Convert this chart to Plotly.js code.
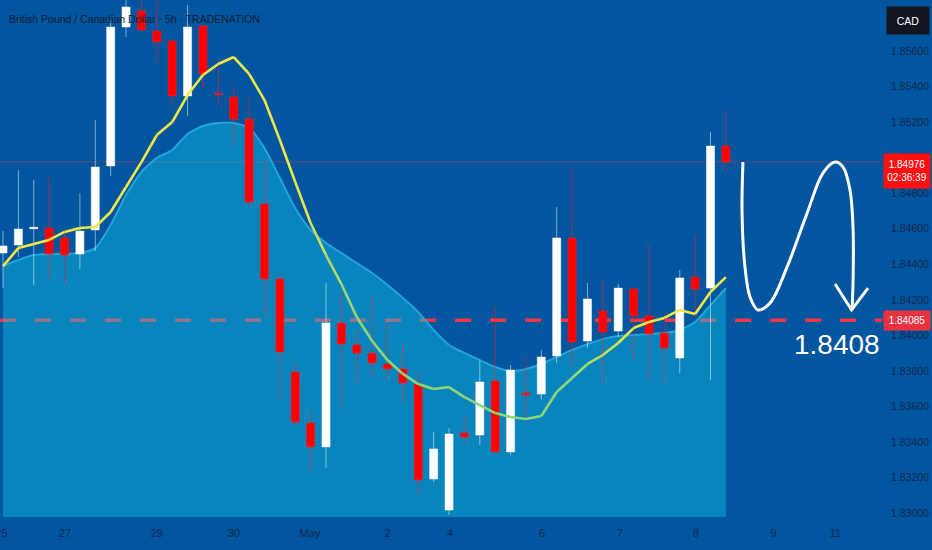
<!DOCTYPE html>
<html>
<head>
<meta charset="utf-8">
<script src="https://cdn.plot.ly/plotly-3.0.1.min.js"></script>
<style>
  html, body { margin: 0; padding: 0; background: #02559f; }
  #chart { width: 932px; height: 550px; }
</style>
</head>
<body>
<div id="chart"></div>
<script>
// ---- data (GBP/CAD, 5h candles) ----
const opens  = [1.84463,1.84508,1.84600,1.84604,1.84548,1.84458,1.84593,1.84953,1.85735,1.85825,1.85713,1.85656,1.85347,1.85741,1.85362,1.85341,1.85217,1.84739,1.84317,1.83794,1.83507,1.83372,1.84070,1.83946,1.83900,1.83839,1.83811,1.83726,1.83192,1.83017,1.83451,1.83439,1.83743,1.83344,1.83675,1.83670,1.83884,1.84548,1.83968,1.84137,1.84024,1.84261,1.84109,1.84013,1.83873,1.84328,1.84266,1.85065];
const highs  = [1.84587,1.84930,1.84874,1.84891,1.84576,1.84801,1.85212,1.85775,1.85890,1.85900,1.85890,1.85660,1.85859,1.85750,1.85549,1.85403,1.85341,1.84981,1.84340,1.83844,1.83569,1.84295,1.84238,1.84030,1.84216,1.84075,1.83946,1.83794,1.83456,1.83479,1.83541,1.83856,1.84160,1.83833,1.83878,1.83917,1.84722,1.84942,1.84295,1.84311,1.84289,1.84261,1.84508,1.84126,1.84368,1.84565,1.85144,1.85268];
const lows   = [1.84266,1.84441,1.84283,1.84317,1.84283,1.84373,1.84475,1.84897,1.85679,1.85700,1.85532,1.85285,1.85234,1.85381,1.85290,1.85060,1.84722,1.84103,1.83636,1.83496,1.83231,1.83254,1.83597,1.83732,1.83766,1.83749,1.83625,1.83102,1.83175,1.82989,1.83394,1.83383,1.83338,1.83327,1.83541,1.83640,1.83844,1.83822,1.83929,1.83732,1.83991,1.83861,1.83749,1.83732,1.83788,1.84103,1.83749,1.84919];
const closes = [1.84503,1.84598,1.84608,1.84458,1.84452,1.84587,1.84947,1.85735,1.85848,1.85718,1.85651,1.85347,1.85735,1.85471,1.85355,1.85217,1.84750,1.84317,1.83906,1.83512,1.83372,1.84070,1.83951,1.83900,1.83844,1.83811,1.83732,1.83186,1.83361,1.83445,1.83428,1.83738,1.83344,1.83805,1.83664,1.83878,1.84548,1.83963,1.84205,1.84019,1.84266,1.84109,1.84008,1.83929,1.84323,1.84261,1.85065,1.84976];
// fast moving average (yellow/green line)
const fastMA = [1.84390,1.84491,1.84514,1.84537,1.84582,1.84604,1.84610,1.84694,1.84835,1.84975,1.85127,1.85200,1.85352,1.85465,1.85527,1.85566,1.85471,1.85324,1.85099,1.84863,1.84632,1.84452,1.84289,1.84103,1.83968,1.83861,1.83783,1.83726,1.83698,1.83709,1.83653,1.83608,1.83563,1.83541,1.83529,1.83546,1.83681,1.83760,1.83839,1.83889,1.83957,1.84041,1.84075,1.84098,1.84143,1.84120,1.84244,1.84328];
// slow moving average (cyan area)
const slowMA = [1.84390,1.84424,1.84452,1.84458,1.84458,1.84463,1.84491,1.84621,1.84790,1.84919,1.84998,1.85043,1.85133,1.85178,1.85195,1.85195,1.85167,1.85054,1.84885,1.84717,1.84593,1.84520,1.84463,1.84407,1.84351,1.84283,1.84210,1.84131,1.84030,1.83946,1.83901,1.83861,1.83822,1.83799,1.83811,1.83839,1.83878,1.83918,1.83951,1.83979,1.83996,1.84002,1.84008,1.84013,1.84030,1.84075,1.84171,1.84266];
// date tick labels (position in candle index units)
const dateTickPos  = [-0.1, 4.03, 10.0, 15.02, 19.96, 25.0, 29.06, 35.04, 40.1, 45.06, 50.1, 54.1];
const dateTickText = ['25','27','29','30','May','2','4','6','7','8','9','11'];
const priceTicks = [1.830,1.832,1.834,1.836,1.838,1.840,1.842,1.844,1.846,1.848,1.850,1.852,1.854,1.856];
const lastPrice = 1.84976;
const countdown = '02:36:39';
const targetLevel = 1.84085;
const targetText = '1.8408';
// hand-drawn projection sketch (candle index, price)
const sketchX = [48.11,48.05,48.24,48.57,49.09,49.87,50.98,52.28,53.32,54.10,54.62,55.07,55.27,55.27,55.20];
const sketchY = [1.84975,1.84688,1.84385,1.84216,1.84143,1.84182,1.84385,1.84688,1.84914,1.84975,1.84947,1.84818,1.84593,1.84311,1.84143];
const headX = [54.10,55.17,56.24];
const headY = [1.84289,1.84143,1.84266];

// ---- build ----
const idx = opens.map((_, i) => i);
const xRange = [-0.195, 57.15];
const yRange = [1.82978, 1.85887];
const traces = [];

// area on the base subplot (drawn first, below candles)
traces.push({
  type: 'scatter', mode: 'lines', x: idx, y: slowMA, xaxis: 'x', yaxis: 'y',
  line: { color: '#22a6d8', width: 2, shape: 'spline', smoothing: 0.6 },
  fill: 'tozeroy', fillcolor: 'rgba(20,200,232,0.42)', hoverinfo: 'skip'
});

// candles on the overlay subplot (drawn above the area)
traces.push({
  type: 'candlestick', x: idx, open: opens, high: highs, low: lows, close: closes,
  xaxis: 'x2', yaxis: 'y2',
  increasing: { line: { color: 'rgba(255,255,255,0.5)', width: 1 }, fillcolor: '#ffffff' },
  decreasing: { line: { color: 'rgba(255,30,30,0.55)', width: 1 }, fillcolor: '#ff0000' },
  whiskerwidth: 0, hoverinfo: 'skip'
});

// fast MA coloured segment by segment (yellow -> green -> yellow)
function greenWeight(i) {
  if (i < 19) return 0;
  if (i < 23) return (i - 19) / 4;
  if (i < 37) return 1;
  if (i < 41) return 1 - (i - 37) / 4;
  return 0;
}
const yellow = [240, 232, 70], green = [140, 214, 120];
for (let i = 0; i < fastMA.length - 1; i++) {
  const w = greenWeight(i + 0.5);
  const c = yellow.map((v, k) => Math.round(v + (green[k] - v) * w));
  traces.push({
    type: 'scatter', mode: 'lines', x: [idx[i], idx[i + 1]], y: [fastMA[i], fastMA[i + 1]],
    xaxis: 'x2', yaxis: 'y2',
    line: { color: `rgb(${c[0]},${c[1]},${c[2]})`, width: 2.6 }, hoverinfo: 'skip'
  });
}

traces.push({
  type: 'scatter', mode: 'lines', x: sketchX, y: sketchY, xaxis: 'x2', yaxis: 'y2',
  line: { color: '#ffffff', width: 3, shape: 'spline', smoothing: 1 }, hoverinfo: 'skip'
});
traces.push({
  type: 'scatter', mode: 'lines', x: headX, y: headY, xaxis: 'x2', yaxis: 'y2',
  line: { color: '#ffffff', width: 3 }, hoverinfo: 'skip'
});

const font = '"Liberation Sans", Arial, sans-serif';
const tickColor = '#13294b';

const layout = {
  width: 932, height: 550,
  margin: { l: 0, r: 50, t: 0, b: 33, pad: 0 },
  paper_bgcolor: '#02559f', plot_bgcolor: '#02559f',
  showlegend: false,
  boxgap: 0.25,
  xaxis: {
    range: xRange, showgrid: false, zeroline: false, rangeslider: { visible: false },
    tickmode: 'array', tickvals: dateTickPos, ticktext: dateTickText, ticklabeloverflow: 'allow',
    ticks: 'outside', ticklen: 6, tickcolor: 'rgba(0,0,0,0)',
    tickfont: { family: font, size: 11, color: tickColor }, showline: false, fixedrange: true
  },
  yaxis: {
    side: 'right', range: yRange, showgrid: false, zeroline: false,
    tickmode: 'array', tickvals: priceTicks, tickformat: '.5f', ticklabeloverflow: 'allow',
    ticks: 'outside', ticklen: 6, tickcolor: 'rgba(0,0,0,0)',
    tickfont: { family: font, size: 10.5, color: tickColor }, showline: false, fixedrange: true
  },
  xaxis2: { overlaying: 'x', anchor: 'y2', range: xRange, visible: false, showgrid: false,
            zeroline: false, rangeslider: { visible: false }, fixedrange: true },
  yaxis2: { overlaying: 'y', anchor: 'x2', side: 'right', range: yRange, visible: false,
            showgrid: false, zeroline: false, fixedrange: true },
  shapes: [
    { type: 'line', xref: 'paper', x0: 0, x1: 1, yref: 'y', y0: lastPrice, y1: lastPrice,
      line: { color: 'rgba(230,60,80,0.45)', width: 1 }, layer: 'below' },
    { type: 'line', xref: 'paper', x0: 0, x1: 1, yref: 'y', y0: targetLevel, y1: targetLevel,
      line: { color: '#f23645', width: 3.5, dash: '16px,19px' }, layer: 'below' }
  ],
  annotations: [
    { xref: 'paper', yref: 'paper', x: 7 / 882, y: 1 - 19 / 517, xanchor: 'left', yanchor: 'middle',
      text: 'British Pound / Canadian Dollar · 5h · TRADENATION', showarrow: false,
      font: { family: font, size: 10.5, color: '#0f1d33' } },
    { xref: 'paper', yref: 'paper', x: 1, y: 1 - 6 / 517, xanchor: 'left', yanchor: 'top', xshift: 4,
      text: 'CAD', showarrow: false, bgcolor: '#121620', width: 40, height: 25,
      font: { family: font, size: 10.5, color: '#ffffff' } },
    { xref: 'paper', yref: 'y', x: 1, y: lastPrice, xanchor: 'left', yanchor: 'top', xshift: 1, yshift: 9,
      text: lastPrice.toFixed(5) + '<br>' + countdown, showarrow: false, bgcolor: '#ff1111',
      width: 44, height: 32, font: { family: font, size: 10, color: '#ffffff' } },
    { xref: 'paper', yref: 'y', x: 1, y: targetLevel, xanchor: 'left', yanchor: 'middle', xshift: 1,
      text: targetLevel.toFixed(5), showarrow: false, bgcolor: '#e8323f',
      width: 44, height: 17, font: { family: font, size: 10, color: '#ffffff' } },
    { xref: 'x', yref: 'y', x: 54.2, y: 1.83946, xanchor: 'center', yanchor: 'middle',
      text: targetText, showarrow: false, font: { family: font, size: 28, color: '#ffffff' } }
  ]
};

Plotly.newPlot('chart', traces, layout, { staticPlot: true, displayModeBar: false });
</script>
</body>
</html>
